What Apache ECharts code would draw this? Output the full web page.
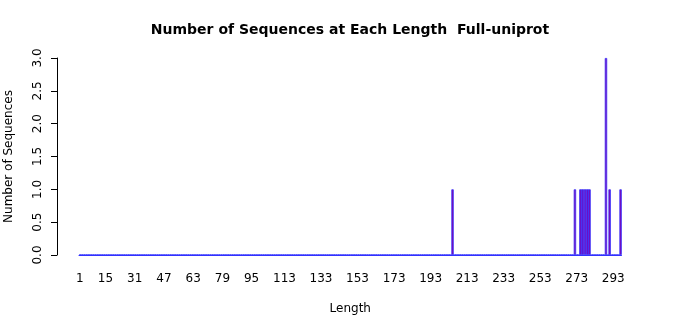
<!DOCTYPE html>
<html>
<head>
<meta charset="utf-8">
<script src="https://cdn.jsdelivr.net/npm/echarts@6/dist/echarts.min.js"></script>
<style>html,body{margin:0;padding:0;background:#fff}#c{width:700px;height:315px}</style>
</head>
<body>
<div id="c"></div>
<script>
// Sequence lengths 1..297
var lengths = [];
for (var i = 1; i <= 297; i++) lengths.push(String(i));
// Non-zero counts
var nonzeroLengths = [205, 272, 275, 276, 277, 278, 279, 280, 289, 291, 297];
var nonzeroCounts  = [1,   1,   1,   1,   1,   1,   1,   1,   3,   1,   1];
// Tick labels shown on the x axis
var tickLabels = ['1','15','31','47','63','79','95','113','133','153','173','193','213','233','253','273','293'];
var yTicks = [0, 0.5, 1, 1.5, 2, 2.5, 3];

var counts = lengths.map(function (l) {
  var k = nonzeroLengths.indexOf(Number(l));
  return k >= 0 ? nonzeroCounts[k] : 0;
});

var font = 'DejaVu Sans';
var chart = echarts.init(document.getElementById('c'), null, {renderer: 'canvas'});
chart.setOption({
  animation: false,
  backgroundColor: '#fff',
  title: {
    text: 'Number of Sequences at Each Length  Full-uniprot',
    left: 'center', top: 18,
    textStyle: {fontFamily: font, fontWeight: 'bold', fontSize: 14, color: '#000'}
  },
  grid: {left: 79, right: 78.5, top: 58, bottom: 60, containLabel: false, outerBoundsMode: 'none'},
  xAxis: {
    type: 'category',
    data: lengths,
    boundaryGap: true,
    name: 'Length',
    nameLocation: 'middle',
    nameGap: 48,
    nameTextStyle: {fontFamily: font, fontSize: 12, color: '#000'},
    axisLine: {show: true, lineStyle: {color: '#3333ff', width: 1}},
    axisTick: {show: false},
    axisLabel: {
      interval: function (idx, val) { return tickLabels.indexOf(val) >= 0; },
      fontFamily: font, fontSize: 12, color: '#000', margin: 18
    },
    splitLine: {show: false}
  },
  yAxis: {
    type: 'value',
    min: 0, max: 3, interval: 0.5,
    offset: 22,
    name: 'Number of Sequences',
    nameLocation: 'middle',
    nameGap: 42,
    nameTextStyle: {fontFamily: font, fontSize: 12, color: '#000'},
    axisLine: {show: true, lineStyle: {color: '#000', width: 1}},
    axisTick: {show: true, inside: false, length: 6, lineStyle: {color: '#000'}},
    axisLabel: {
      rotate: 90, fontFamily: font, fontSize: 12, color: '#000', margin: 13,
      formatter: function (v) { return yTicks.indexOf(v) >= 0 ? v.toFixed(1) : ''; }
    },
    splitLine: {show: false}
  },
  series: [{
    type: 'bar',
    data: counts,
    barWidth: 2.4,
    barGap: '-100%',
    itemStyle: {color: '#8800aa', borderColor: '#3333ff', borderWidth: 0.8}
  }]
});
</script>
</body>
</html>
